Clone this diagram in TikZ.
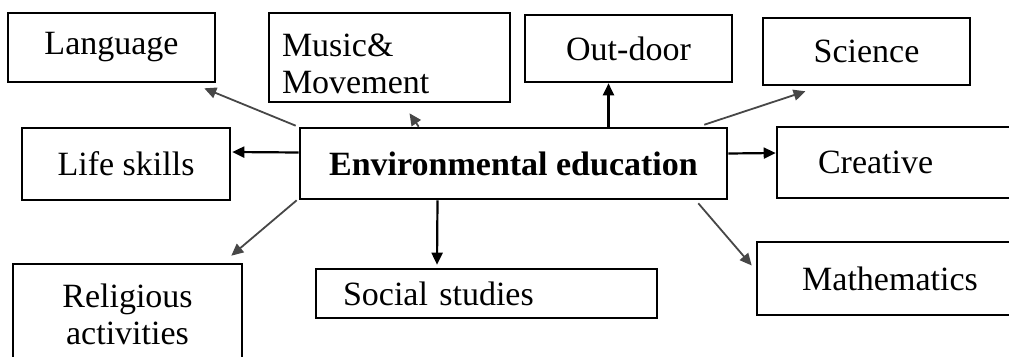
\documentclass[tikz,border=0pt]{standalone}
\usepackage{fontspec}
\setmainfont{Liberation Serif}
\usetikzlibrary{arrows.meta, positioning, calc}
\tikzset{
  every picture/.style={line width=2pt},
  box/.style={draw=black, line width=2.6pt, inner sep=0pt, align=center, font=\fontsize{34}{37}\selectfont},
  arrow/.style={-{Triangle[length=12pt, width=11pt]}, draw=black, line width=2.2pt},
  slant/.style={arrow, draw=black!72, line width=1.8pt},
}
\begin{document}
\begin{tikzpicture}[x=1pt, y=-1pt,
  s/.style={box, minimum width=207pt, minimum height=68pt},
  l/.style={box, align=left, text width=#1}]
  \useasboundingbox (0,0) rectangle (1009,356);
  \clip (0,0) rectangle (1009,356);
  % centre
  \node[box, font=\fontsize{34}{37}\selectfont\bfseries, minimum width=427pt, minimum height=71pt] (env) at (513.5,163.5) {Environmental education};
  % upper row
  \node[l=215pt, text height=36pt, minimum width=241pt, minimum height=89pt] (music) at (389.5,57.5) {Music\&\\Movement};
  \node[s, minimum height=69pt] (lang) at (111.5,47.5) {Language};
  \node[s, minimum height=67pt] (out) at (628.5,48.5) {Out-door};
  \node[s, minimum height=67pt] (sci) at (866.5,51.5) {Science};
  % middle row
  \node[s, minimum width=208pt, minimum height=72pt] (life) at (126,164) {Life skills};
  \node[l=181pt, minimum width=263pt, minimum height=71pt] (cre) at (908.5,162.5) {Creative};
  % lower row
  \node[box, minimum width=229pt, minimum height=101pt] (rel) at (127.5,314.5) {Religious\\activities};
  \node[l=287pt, minimum width=341pt, minimum height=49pt] (soc) at (486.5,293.5) {Social studies};
  \node[box, minimum width=266pt, minimum height=73pt] (math) at (890,278.5) {Mathematics};
  % connectors
  \draw[slant] ($(env.north west)+(-3,-1)$) -- ($(lang.south east)+(-12,5)$);
  \draw[slant] ($(env.north west)+(120,0)$) -- ($(music.south)+(20,10)$);
  \draw[arrow] ($(env.north)+(95,0)$) -- ($(out.south)+(-20,0)$);
  \draw[slant] ($(env.north east)+(-24,-2)$) -- ($(sci.south)+(-61,5)$);
  \draw[arrow] ($(env.west)+(0,-11)$) -- ($(life.east)+(1,-12)$);
  \draw[arrow] ($(env.east)+(0,-10)$) -- ($(cre.west)+(0,-9.5)$);
  \draw[slant] ($(env.south west)+(-2,0)$) -- ($(rel.north east)+(-12,-7)$);
  \draw[arrow] ($(env.south)+(-76,0)$) -- ($(soc.north)+(-49.5,-3)$);
  \draw[slant] ($(env.south east)+(-30,3)$) -- ($(math.west)+(-4,-13)$);
\end{tikzpicture}
\end{document}
